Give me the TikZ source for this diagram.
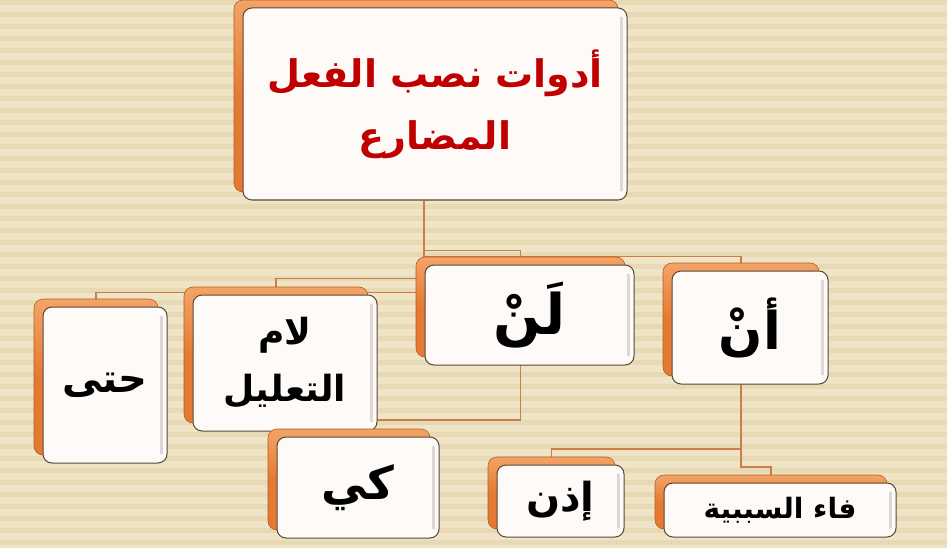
\documentclass[tikz,border=0pt]{standalone}
\usepackage{fontspec}
\usetikzlibrary{calc}
\newfontfamily\arabicfont[Script=Arabic]{DejaVu Sans}
\TeXXeTstate=1
\definecolor{bgbase}{HTML}{F0E4C6}
\definecolor{bgstripe}{HTML}{E8D9B5}
\definecolor{boxorange}{HTML}{E47A32}
\definecolor{boxorangelight}{HTML}{F2A466}
\definecolor{boxorangedark}{HTML}{B85A1E}
\definecolor{boxwhite}{HTML}{FDFAF8}
\definecolor{boxedge}{HTML}{5A4536}
\definecolor{shadegray}{HTML}{DDD8D6}
\definecolor{lineorange}{HTML}{CB7E48}
\definecolor{titlered}{HTML}{C00000}
\pgfdeclarelayer{bg}
\pgfdeclarelayer{conns}
\pgfsetlayers{bg,conns,main}
\tikzset{
  backbox/.style={rounded corners=9pt, top color=boxorangelight, bottom color=boxorange, middle color=boxorange, draw=boxorangedark, line width=0.6pt, inner sep=0pt},
  frontbox/.style={rounded corners=9pt, fill=boxwhite, draw=boxedge, line width=1pt, inner sep=0pt, align=center},
  innershade/.style={draw=shadegray, line width=2.2pt, line cap=round},
  conn/.style={draw=lineorange, line width=1.9pt},
}
\newcommand\twobox[7]{%
  \node[backbox, minimum width=#4pt, minimum height=#5pt] (#1b) at ($(#2,#3)+(-9,-8)$) {};
  \node[frontbox, minimum width=#4pt, minimum height=#5pt, #6] (#1) at (#2,#3) {#7};
  \draw[innershade] ([xshift=-6pt,yshift=-10pt]#1.north east) -- ([xshift=-6pt,yshift=10pt]#1.south east);
}
\newcommand\ar[1]{\beginR #1\endR}
\begin{document}
\begin{tikzpicture}[x=1pt,y=-1pt]
\useasboundingbox (0,0) rectangle (947,548);
\begin{pgfonlayer}{bg}
\fill[bgbase] (0,0) rectangle (947,548);
\foreach \s in {0,12,...,540} \fill[bgstripe] (0,\s) rectangle (947,\s+5);
\end{pgfonlayer}

\twobox{main}{435}{104}{384}{192}{font=\arabicfont\bfseries\fontsize{38}{62}\selectfont, text=titlered}{\ar{أدوات نصب الفعل}\\\ar{المضارع}}
\twobox{lan}{529.5}{315}{209}{100}{font=\arabicfont\bfseries\fontsize{56}{60}\selectfont}{\ar{لَنْ}}
\twobox{an}{750}{327.5}{156}{113}{font=\arabicfont\bfseries\fontsize{52}{60}\selectfont}{\ar{أنْ}}
\twobox{hatta}{105}{385}{124}{156}{font=\arabicfont\bfseries\fontsize{40}{50}\selectfont}{\ar{حتى}}
\twobox{lam}{285}{363}{184}{136}{font=\arabicfont\bfseries\fontsize{36}{57}\selectfont}{\ar{لام}\\\ar{التعليل}}
\twobox{kay}{358}{487.5}{162}{101}{font=\arabicfont\bfseries\fontsize{46}{50}\selectfont}{\ar{كي}}
\twobox{idh}{560.5}{501}{127}{72}{font=\arabicfont\bfseries\fontsize{40}{50}\selectfont}{\ar{إذن}}
\twobox{fa}{780}{510}{232}{54}{font=\arabicfont\bfseries\fontsize{28}{30}\selectfont}{\ar{فاء السببية}}

\begin{pgfonlayer}{conns}
\coordinate (trunk) at ([xshift=-11pt]main.south);
\draw[conn] (trunk) -- ++(0,50) -| (lanb.north);
\draw[conn] (trunk) -- ++(0,56) -| (anb.north);
\draw[conn] (trunk) -- ++(0,78) -| (lamb.north);
\draw[conn] (trunk) -- ++(0,92) -| (hattab.north);
\draw[conn] (lanb.south) -- ++(0,63) -| (kayb.north);
\draw[conn] (anb.south) -- ++(0,73) -| (idhb.north);
\draw[conn] (anb.south) -- ++(0,91) -| (fab.north);
\end{pgfonlayer}
\end{tikzpicture}
\end{document}
